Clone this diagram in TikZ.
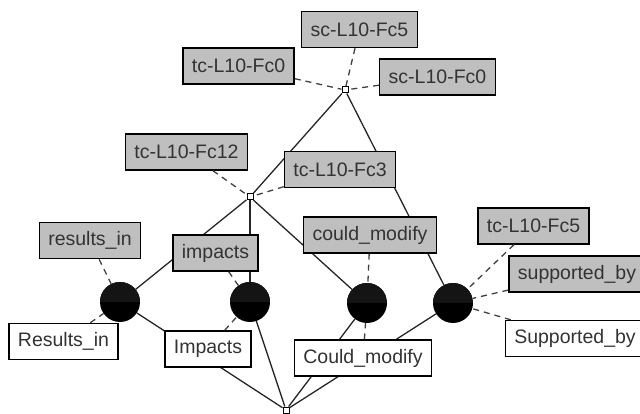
\documentclass[tikz,border=0pt]{standalone}
\usepackage{fontspec}
\setmainfont{Liberation Sans}
\begin{document}
\begin{tikzpicture}[x=1pt,y=-1pt, every node/.style={font=\fontsize{19.5}{22}\selectfont,text=black!80},
  lbl/.style={draw=black,line width=1.4pt,fill=black!25,minimum height=36pt,inner xsep=9pt,inner ysep=0pt},
  obj/.style={lbl,fill=white},
  cpt/.style={circle,fill=black,minimum size=40pt,inner sep=0pt,
    path picture={\fill[black!92] (path picture bounding box.north west) rectangle (path picture bounding box.east);}},
  pt/.style={draw,fill=white,minimum size=6pt,inner sep=0pt,line width=1pt},
  edg/.style={line width=1.3pt,black!85},
  dsh/.style={line width=1.3pt,black!75,dash pattern=on 6pt off 5pt}]
\clip (0,0) rectangle (640,414);
% lattice
\node[pt] (top) at (345,90) {};
\node[pt] (mid) at (250,197) {};
\node[pt] (bot) at (286,410) {};
\node[cpt] (c1) at (120,302) {};
\node[cpt] (c2) at (250,302) {};
\node[cpt] (c3) at (367,303) {};
\node[cpt] (c4) at (453,303) {};
\draw[edg] (top) -- (mid); \draw[edg] (top) -- (c4);
\foreach \c in {c1,c2,c3} {\draw[edg] (mid) -- (\c);}
\foreach \c in {c1,c2,c3,c4} {\draw[edg] (\c) -- (bot);}
% attribute labels
\node[lbl] (a1) at (359.5,29.5) {sc-L10-Fc5};
\node[lbl] (a2) at (238.5,66) {tc-L10-Fc0};
\node[lbl] (a3) at (437.5,77) {sc-L10-Fc0};
\node[lbl] (a4) at (186.5,152) {tc-L10-Fc12};
\node[lbl] (a5) at (340,169.5) {tc-L10-Fc3};
\node[lbl] (a6) at (90,240.5) {results\_in};
\node[lbl] (a7) at (215.5,253) {impacts};
\node[lbl] (a8) at (370,235) {could\_modify};
\node[lbl] (a9) at (533.5,226) {tc-L10-Fc5};
\node[lbl] (a10) at (577,274) {supported\_by};
% object labels
\node[obj] (o1) at (63.5,341.5) {Results\_in};
\node[obj] (o2) at (208,349) {Impacts};
\node[obj] (o3) at (363,358) {Could\_modify};
\node[obj] (o4) at (575,338.5) {Supported\_by};
\foreach \a in {a1,a2,a3} {\draw[dsh] (\a) -- (top);}
\foreach \a in {a4,a5} {\draw[dsh] (\a) -- (mid);}
\foreach \a/\c in {a6/c1,a7/c2,a8/c3,a9/c4,a10/c4,o1/c1,o2/c2,o3/c3,o4/c4} {\draw[dsh] (\a) -- (\c);}
\end{tikzpicture}
\end{document}
